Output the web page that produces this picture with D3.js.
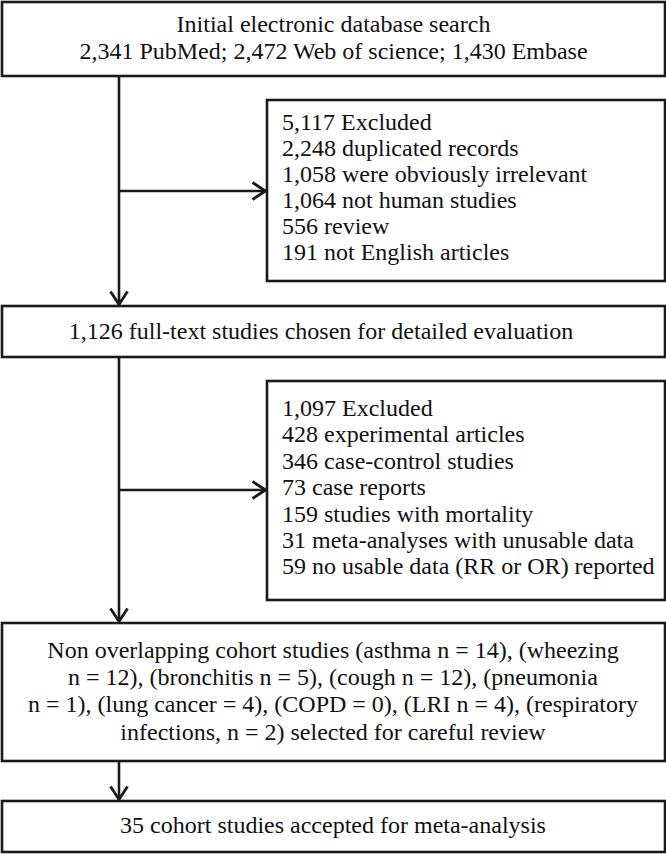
<!DOCTYPE html>
<html>
<head>
<meta charset="utf-8">
<script src="https://cdn.jsdelivr.net/npm/d3@7"></script>
<style>
html,body{margin:0;padding:0;background:#fff;}
svg{display:block;}
text{font-family:"Liberation Serif","Times New Roman",serif;fill:#111;}
</style>
</head>
<body>
<div id="chart"></div>
<script>
// ---- data ----
const searchLines = ["Initial electronic database search", "2,341 PubMed; 2,472 Web of science; 1,430 Embase"];
const excluded1Lines = ["5,117 Excluded", "2,248 duplicated records", "1,058 were obviously irrelevant", "1,064 not human studies", "556 review", "191 not English articles"];
const fullTextLines = ["1,126 full-text studies chosen for detailed evaluation"];
const excluded2Lines = ["1,097 Excluded", "428 experimental articles", "346 case-control studies", "73 case reports", "159 studies with mortality", "31 meta-analyses with unusable data", "59 no usable data (RR or OR) reported"];
const cohortLines = ["Non overlapping cohort studies (asthma n = 14), (wheezing", "n = 12), (bronchitis n = 5), (cough n = 12), (pneumonia", "n = 1), (lung cancer = 4), (COPD = 0), (LRI n = 4), (respiratory", "infections, n = 2) selected for careful review"];
const acceptedLines = ["35 cohort studies accepted for meta-analysis"];

// ---- layout ----
const W = 666, H = 854;
const x = d3.scaleLinear().domain([0, 1]).range([2, 665]);
const mainX = 119, sideX = 267;
const fontSize = 24;

const boxes = [
  {lines: searchLines, x0: x(0), x1: x(1), y0: 2, y1: 76, align: "middle", cx: 333.5, firstBase: 32, lh: 27},
  {lines: excluded1Lines, x0: sideX, x1: x(1), y0: 100, y1: 281, align: "start", tx: 282, firstBase: 130, lh: 26},
  {lines: fullTextLines, x0: x(0), x1: x(1), y0: 306, y1: 357, align: "middle", cx: 321, firstBase: 339, lh: 26},
  {lines: excluded2Lines, x0: sideX, x1: x(1), y0: 381, y1: 600, align: "start", tx: 282, firstBase: 416, lh: 26.4},
  {lines: cohortLines, x0: x(0), x1: x(1), y0: 623, y1: 761, align: "middle", cx: 333, firstBase: 658, lh: 27.2},
  {lines: acceptedLines, x0: x(0), x1: x(1), y0: 801, y1: 852, align: "middle", cx: 333, firstBase: 833, lh: 26}
];

const svg = d3.select("#chart").append("svg").attr("width", W).attr("height", H);
const stroke = "#1a1a1a";

// connectors
const links = [
  {x1: mainX, y1: boxes[0].y1, x2: mainX, y2: boxes[2].y0, dir: "down"},
  {x1: mainX, y1: 191, x2: sideX, y2: 191, dir: "right"},
  {x1: mainX, y1: boxes[2].y1, x2: mainX, y2: boxes[4].y0, dir: "down"},
  {x1: mainX, y1: 490, x2: sideX, y2: 490, dir: "right"},
  {x1: mainX, y1: boxes[4].y1, x2: mainX, y2: boxes[5].y0, dir: "down"}
];
svg.selectAll("line.link").data(links).join("line")
  .attr("class", "link")
  .attr("x1", d => d.x1).attr("y1", d => d.y1)
  .attr("x2", d => d.dir === "down" ? d.x2 : d.x2 - 1.5)
  .attr("y2", d => d.dir === "down" ? d.y2 - 1.5 : d.y2)
  .attr("stroke", stroke).attr("stroke-width", 2.6);

const ah = 13, aw = 8.5;
svg.selectAll("path.head").data(links).join("path")
  .attr("class", "head")
  .attr("d", d => {
    if (d.dir === "down") {
      const tx = d.x2, ty = d.y2 - 1.5;
      return `M${tx - aw},${ty - ah}L${tx},${ty}L${tx + aw},${ty - ah}`;
    } else {
      const tx = d.x2 - 1.5, ty = d.y2;
      return `M${tx - ah},${ty - aw}L${tx},${ty}L${tx - ah},${ty + aw}`;
    }
  })
  .attr("fill", "none").attr("stroke", stroke).attr("stroke-width", 2.8)
  .attr("stroke-linejoin", "miter");

// boxes
const g = svg.selectAll("g.box").data(boxes).join("g").attr("class", "box");
g.append("rect")
  .attr("x", d => d.x0).attr("y", d => d.y0)
  .attr("width", d => d.x1 - d.x0).attr("height", d => d.y1 - d.y0)
  .attr("fill", "#fff").attr("stroke", stroke).attr("stroke-width", 2.6);

g.each(function(d) {
  d3.select(this).selectAll("text").data(d.lines).join("text")
    .attr("x", d.align === "middle" ? d.cx : d.tx)
    .attr("y", (l, i) => d.firstBase + i * d.lh)
    .attr("text-anchor", d.align)
    .attr("font-size", fontSize)
    .text(l => l);
});
</script>
</body>
</html>
